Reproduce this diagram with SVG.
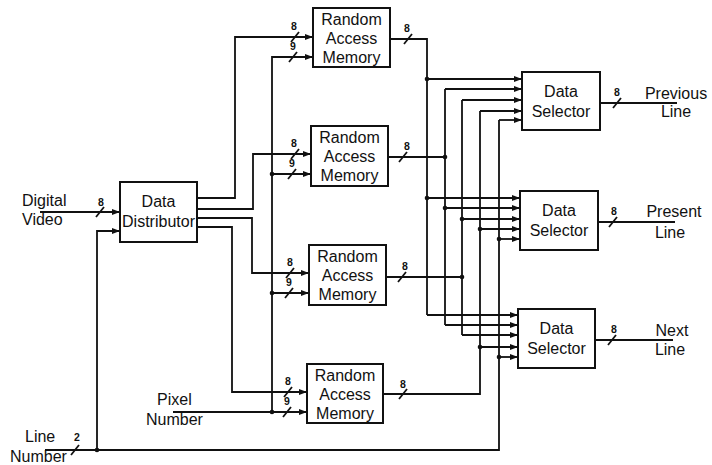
<svg xmlns="http://www.w3.org/2000/svg" width="712" height="465" viewBox="0 0 712 465">
<defs>
<style>
.box{fill:#fff;stroke:#111;stroke-width:2}
.t{font-family:"Liberation Sans",Arial,sans-serif;font-size:16px;fill:#111;text-anchor:middle}
.tl{font-family:"Liberation Sans",Arial,sans-serif;font-size:16px;fill:#111}
.s{font-family:"Liberation Sans",Arial,sans-serif;font-size:10.5px;font-weight:bold;fill:#111;text-anchor:middle}
.w{fill:none;stroke:#111;stroke-width:1.8}
.a{fill:none;stroke:#111;stroke-width:1.8;marker-end:url(#arr)}
.sl{stroke:#111;stroke-width:1.8}
.d{fill:#111}
</style>
<marker id="arr" markerWidth="8" markerHeight="6" refX="8" refY="3" orient="auto" markerUnits="userSpaceOnUse">
<path d="M0,0 L8,3 L0,6 Z" fill="#111"/>
</marker>
</defs>
<rect width="712" height="465" fill="#fff"/>

<g id="connectors">
<path class="a" d="M40,212 H120"/>
<path class="w" d="M45,450 H499 V120"/>
<path class="a" d="M97,450 V231 H120"/>
<path class="a" d="M197,198 H235 V37 H313"/>
<path class="a" d="M197,209 H253 V154 H311"/>
<path class="a" d="M197,218 H252 V273 H309"/>
<path class="a" d="M197,227 H232 V392 H307"/>
<path class="a" d="M272,412 V57 H313"/>
<path class="a" d="M272,174 H311"/>
<path class="a" d="M272,293 H309"/>
<path class="a" d="M173,412 H307"/>
<path class="w" d="M390,39 H427 V315"/>
<path class="w" d="M388,157 H445"/>
<path class="w" d="M445,89 V325"/>
<path class="w" d="M386,277 H462"/>
<path class="w" d="M462,100 V335"/>
<path class="w" d="M383,394 H480 V111"/>
<path class="a" d="M427,79 H522"/>
<path class="a" d="M445,89 H522"/>
<path class="a" d="M462,100 H522"/>
<path class="a" d="M480,111 H522"/>
<path class="a" d="M499,120 H522"/>
<path class="a" d="M427,198 H520"/>
<path class="a" d="M445,208 H520"/>
<path class="a" d="M462,219 H520"/>
<path class="a" d="M480,229 H520"/>
<path class="a" d="M499,239 H520"/>
<path class="a" d="M427,315 H518"/>
<path class="a" d="M445,325 H518"/>
<path class="a" d="M462,335 H518"/>
<path class="a" d="M480,347 H518"/>
<path class="a" d="M499,357 H518"/>
<path class="w" d="M600,103 H677"/>
<path class="w" d="M598,222 H675"/>
<path class="w" d="M595,340 H673"/>
<g class="d">
<circle cx="97" cy="450" r="2.3"/>
<circle cx="272" cy="174" r="2.3"/>
<circle cx="272" cy="293" r="2.3"/>
<circle cx="272" cy="412" r="2.3"/>
<circle cx="427" cy="79" r="2.3"/>
<circle cx="427" cy="198" r="2.3"/>
<circle cx="445" cy="157" r="2.3"/>
<circle cx="445" cy="208" r="2.3"/>
<circle cx="462" cy="219" r="2.3"/>
<circle cx="462" cy="277" r="2.3"/>
<circle cx="480" cy="229" r="2.3"/>
<circle cx="480" cy="347" r="2.3"/>
<circle cx="499" cy="239" r="2.3"/>
<circle cx="499" cy="357" r="2.3"/>
</g>
<g class="sl">
<line x1="96" y1="217" x2="104" y2="207"/>
<line x1="71" y1="455" x2="79" y2="445"/>
<line x1="291" y1="42" x2="299" y2="32"/>
<line x1="289" y1="62" x2="297" y2="52"/>
<line x1="291" y1="159" x2="299" y2="149"/>
<line x1="288" y1="179" x2="296" y2="169"/>
<line x1="286" y1="278" x2="294" y2="268"/>
<line x1="285" y1="298" x2="293" y2="288"/>
<line x1="284" y1="397" x2="292" y2="387"/>
<line x1="283" y1="417" x2="291" y2="407"/>
<line x1="404" y1="44" x2="412" y2="34"/>
<line x1="399" y1="162" x2="407" y2="152"/>
<line x1="398" y1="282" x2="406" y2="272"/>
<line x1="399" y1="399" x2="407" y2="389"/>
<line x1="613" y1="108" x2="621" y2="98"/>
<line x1="609" y1="227" x2="617" y2="217"/>
<line x1="608" y1="345" x2="616" y2="335"/>
</g>
<g>
<text class="s" x="101" y="206">8</text>
<text class="s" x="77" y="441">2</text>
<text class="s" x="294" y="30">8</text>
<text class="s" x="293" y="50">9</text>
<text class="s" x="294" y="147">8</text>
<text class="s" x="292" y="167">9</text>
<text class="s" x="290" y="266">8</text>
<text class="s" x="289" y="286">9</text>
<text class="s" x="288" y="385">8</text>
<text class="s" x="287" y="405">9</text>
<text class="s" x="407" y="32">8</text>
<text class="s" x="407" y="150">8</text>
<text class="s" x="405" y="270">8</text>
<text class="s" x="403" y="388">8</text>
<text class="s" x="617" y="96">8</text>
<text class="s" x="614" y="215">8</text>
<text class="s" x="614" y="333">8</text>
</g>
</g>

<g id="digital-video">
<text class="tl" x="22" y="206">Digital</text>
<text class="tl" x="22" y="225">Video</text>
</g>
<g id="line-number">
<text class="tl" x="25" y="442">Line</text>
<text class="tl" x="10" y="462">Number</text>
</g>
<g id="pixel-number">
<text class="tl" x="157" y="405">Pixel</text>
<text class="tl" x="146" y="425">Number</text>
</g>

<g id="data-distributor">
<rect class="box" x="120" y="182" width="77" height="60"/>
<text class="t" x="158.5" y="207">Data</text>
<text class="t" x="158.5" y="227">Distributor</text>
</g>

<g id="ram1">
<rect class="box" x="313" y="8" width="77" height="59"/>
<text class="t" x="351.5" y="25">Random</text>
<text class="t" x="351.5" y="44">Access</text>
<text class="t" x="351.5" y="63">Memory</text>
</g>
<g id="ram2">
<rect class="box" x="311" y="126" width="77" height="60"/>
<text class="t" x="349.5" y="143">Random</text>
<text class="t" x="349.5" y="162">Access</text>
<text class="t" x="349.5" y="181">Memory</text>
</g>
<g id="ram3">
<rect class="box" x="309" y="245" width="77" height="60"/>
<text class="t" x="347.5" y="262">Random</text>
<text class="t" x="347.5" y="281">Access</text>
<text class="t" x="347.5" y="300">Memory</text>
</g>
<g id="ram4">
<rect class="box" x="307" y="364" width="76" height="59"/>
<text class="t" x="345" y="381">Random</text>
<text class="t" x="345" y="400">Access</text>
<text class="t" x="345" y="419">Memory</text>
</g>

<g id="selector1">
<rect class="box" x="522" y="72" width="78" height="58"/>
<text class="t" x="561" y="97">Data</text>
<text class="t" x="561" y="117">Selector</text>
</g>
<g id="selector2">
<rect class="box" x="520" y="191" width="78" height="59"/>
<text class="t" x="559" y="216">Data</text>
<text class="t" x="559" y="236">Selector</text>
</g>
<g id="selector3">
<rect class="box" x="518" y="309" width="77" height="59"/>
<text class="t" x="556.5" y="334">Data</text>
<text class="t" x="556.5" y="354">Selector</text>
</g>

<g id="previous-line">
<text class="t" x="676" y="99">Previous</text>
<text class="t" x="676" y="117">Line</text>
</g>
<g id="present-line">
<text class="t" x="674" y="217">Present</text>
<text class="t" x="670" y="238">Line</text>
</g>
<g id="next-line">
<text class="t" x="672" y="336">Next</text>
<text class="t" x="670" y="355">Line</text>
</g>
</svg>
